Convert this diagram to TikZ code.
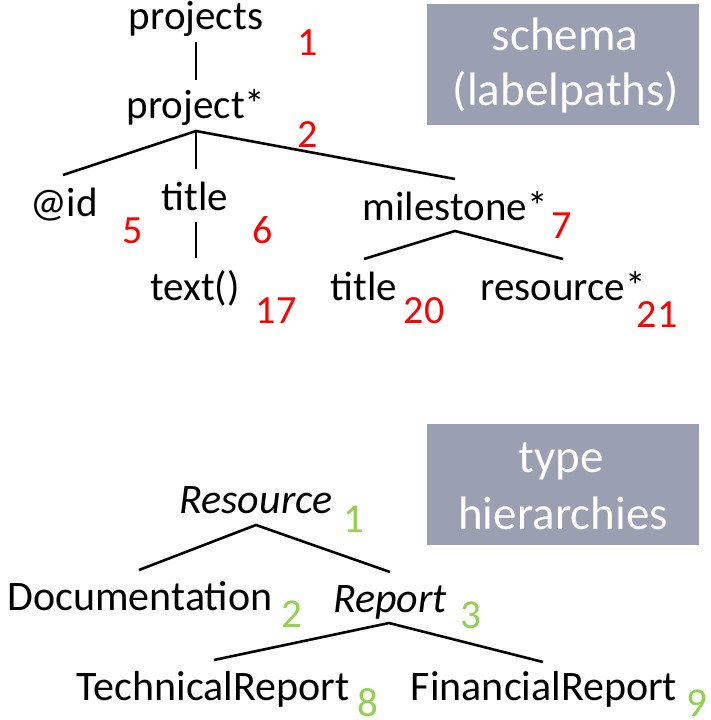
\documentclass[tikz,border=0pt]{standalone}
\usepackage{fontspec}
\setmainfont{Carlito}
\definecolor{boxgray}{RGB}{154,160,178}
\definecolor{numgreen}{RGB}{146,208,80}
\begin{document}
\begin{tikzpicture}[x=1pt,y=-1pt,
  lbl/.style={anchor=base,inner sep=0pt,font=\fontsize{41}{48}\selectfont},
  lblb/.style={anchor=base,inner sep=0pt,font=\fontsize{42}{48}\selectfont},
  rnum/.style={anchor=base,inner sep=0pt,text=red,font=\fontsize{40}{48}\selectfont},
  gnum/.style={anchor=base,inner sep=0pt,text=numgreen,font=\fontsize{41}{48}\selectfont},
  edge/.style={line width=2.6pt},
  box/.style={fill=boxgray,minimum width=272pt,minimum height=121pt,inner sep=0pt},
  boxtxt/.style={anchor=base,inner sep=0pt,text=white,font=\fontsize{47}{56}\selectfont}]
\useasboundingbox (0,0) rectangle (711,720);

% ---- schema box
\node[box] (schemabox) at (563,64.5) {};
\node[boxtxt] (schematxt1) at (565,50) {schema};
\node[boxtxt] (schematxt2) at (566,105) {(labelpaths)};

% ---- schema tree
\node[lbl] (projects) at (196,29) {projects};
\node[rnum] (n1) at (308,55) {1};
\node[lbl] (project) at (196,118) {project*};
\node[rnum] (n2) at (308,147) {2};
\node[lbl] (id) at (64,216) {@id};
\node[rnum] (n5) at (133,243) {5};
\node[lbl] (title) at (195,210) {title};
\node[rnum] (n6) at (263,243) {6};
\node[lbl] (text) at (195,300) {text()};
\node[rnum] (n17) at (276,323) {17};
\node[lbl] (milestone) at (455,220) {milestone*};
\node[rnum] (n7) at (562,238) {7};
\node[lbl] (title2) at (364,300) {title};
\node[rnum] (n20) at (424,323) {20};
\node[lbl] (resource) at (563,300) {resource*};
\node[rnum] (n21) at (657,327) {21};

\coordinate (projectsB) at (196,42);
\coordinate (projectT) at (196,80);
\coordinate (projectB) at (196,131);
\coordinate (idT) at (63,175);
\coordinate (titleT) at (196,169);
\coordinate (milestoneT) at (455,179);
\coordinate (titleB) at (196,222);
\coordinate (textT) at (196,258);
\coordinate (milestoneB) at (455,231);
\coordinate (title2T) at (364,259);
\coordinate (resourceT) at (563,259);

\draw[edge] (projectsB) -- (projectT);
\draw[edge] (idT) -- (projectB) -- (milestoneT);
\draw[edge] (projectB) -- (titleT);
\draw[edge] (titleB) -- (textT);
\draw[edge] (title2T) -- (milestoneB) -- (resourceT);

% ---- type hierarchy box
\node[box] (typebox) at (563,484.5) {};
\node[boxtxt] (typetxt1) at (561,472) {type};
\node[boxtxt] (typetxt2) at (563,529) {hierarchies};

% ---- type tree
\node[lblb] (Res) at (256,513) {\itshape Resource};
\node[gnum] (g1) at (354,532) {1};
\node[lblb] (Doc) at (140,610) {Documentation};
\node[gnum] (g2) at (292,627) {2};
\node[lblb] (Rep) at (390,612) {\itshape Report};
\node[gnum] (g3) at (471,628) {3};
\node[lblb] (Tech) at (213,700) {TechnicalReport};
\node[gnum] (g8) at (368,716) {8};
\node[lblb] (Fin) at (544,700) {FinancialReport};
\node[gnum] (g9) at (697,716) {9};

\coordinate (ResB) at (256,525);
\coordinate (DocT) at (139,570);
\coordinate (RepT) at (390,572);
\coordinate (RepB) at (389,623);
\coordinate (TechT) at (214,660);
\coordinate (FinT) at (543,662);

\draw[edge] (DocT) -- (ResB) -- (RepT);
\draw[edge] (TechT) -- (RepB) -- (FinT);
\end{tikzpicture}
\end{document}
